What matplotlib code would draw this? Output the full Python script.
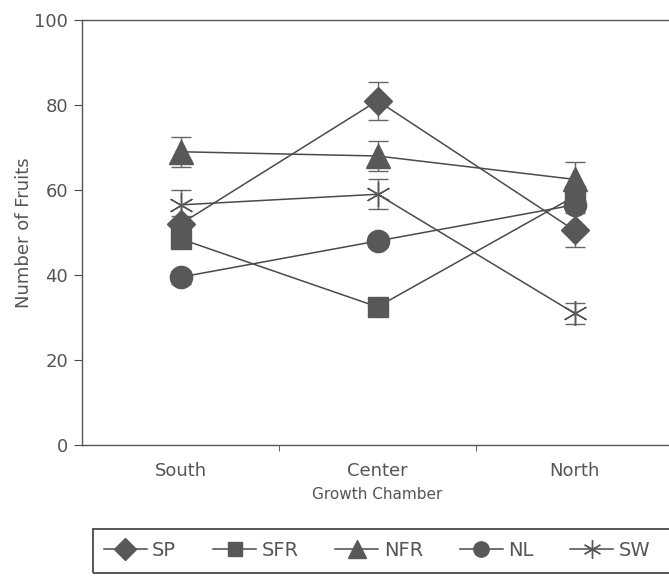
import matplotlib.pyplot as plt
from matplotlib.lines import Line2D
from matplotlib.patches import Rectangle

plt.rcParams['font.family'] = ['DejaVu Sans']

# data
chambers = ['South', 'Center', 'North']
sp_vals = [52, 81, 50.5]
sp_err = [2, 4.5, 4]
sfr_vals = [48.5, 32.5, 58.5]
sfr_err = [1.5, 1.5, 1.5]
nfr_vals = [69, 68, 62.5]
nfr_err = [3.5, 3.5, 4]
nl_vals = [39.5, 48, 56.5]
nl_err = [1.5, 1.5, 1.5]
sw_vals = [56.5, 59, 31]
sw_err = [3.5, 3.5, 2.5]

# name, values, errors, marker, size in plot, size in legend
series = [
    ('SP', sp_vals, sp_err, 'D', 14, 11),
    ('SFR', sfr_vals, sfr_err, 's', 15, 10),
    ('NFR', nfr_vals, nfr_err, '^', 17, 13),
    ('NL', nl_vals, nl_err, 'o', 16, 11),
    ('SW', sw_vals, sw_err, (6, 2, 0), 18, 13),
]

ink = '#4a4a4a'
txt = '#555555'
fill = '#585858'

fig = plt.figure(figsize=(6.69, 5.76), dpi=100)
ax = fig.add_axes([82 / 669, 1 - 445 / 576, (673 - 82) / 669, (445 - 20) / 576])

x = [1, 2, 3]
for name, vals, err, mk, ms, _ in series:
    ax.errorbar(x, vals, yerr=err, color=ink, lw=1.1, marker=mk, ms=ms,
                mfc=fill, mec=fill, mew=1.0,
                ecolor='#666666', elinewidth=1.0, capsize=7, capthick=1.0,
                label=name)

ax.set_xlim(0.5, 3.5)
ax.set_ylim(0, 100)
ax.set_yticks([0, 20, 40, 60, 80, 100])
ax.set_xticks([1, 2, 3])
ax.set_xticklabels(chambers)
ax.set_xticks([1.5, 2.5], minor=True)
ax.tick_params(axis='x', which='major', length=0, pad=12, labelsize=13, labelcolor=txt)
ax.tick_params(axis='x', which='minor', length=4, direction='out', color=ink)
ax.tick_params(axis='y', length=6, direction='out', pad=4, labelsize=13, labelcolor=txt, color=ink)
for side in ['left', 'bottom', 'top', 'right']:
    ax.spines[side].set_color('#555555')
    ax.spines[side].set_linewidth(1.0)

ax.set_ylabel('Number of Fruits', fontsize=13, color=txt)
ax.yaxis.set_label_coords(-0.083, 0.5)
ax.set_xlabel('Growth Chamber', fontsize=11, color=txt, labelpad=5)

handles = [Line2D([0], [0], color=ink, lw=1.1, marker=mk, ms=lms,
                  mfc=fill, mec=fill) for _, _, _, mk, _, lms in series]
labels = [s[0] for s in series]
leg = fig.legend(handles, labels, loc='center left', ncol=5,
                 bbox_to_anchor=(104 / 669, 1 - 550 / 576),
                 frameon=False, fontsize=14, borderpad=0, borderaxespad=0,
                 handlelength=2.2, handletextpad=0.28, columnspacing=1.9)
for t in leg.get_texts():
    t.set_color(txt)

# legend box, runs off the right edge like the scan
fig.patches.append(Rectangle((93 / 669, 1 - 573 / 576), (700 - 93) / 669, 44 / 576,
                             transform=fig.transFigure, fill=False,
                             edgecolor='#555555', lw=1.4))

fig.savefig('out.png', dpi=100)
